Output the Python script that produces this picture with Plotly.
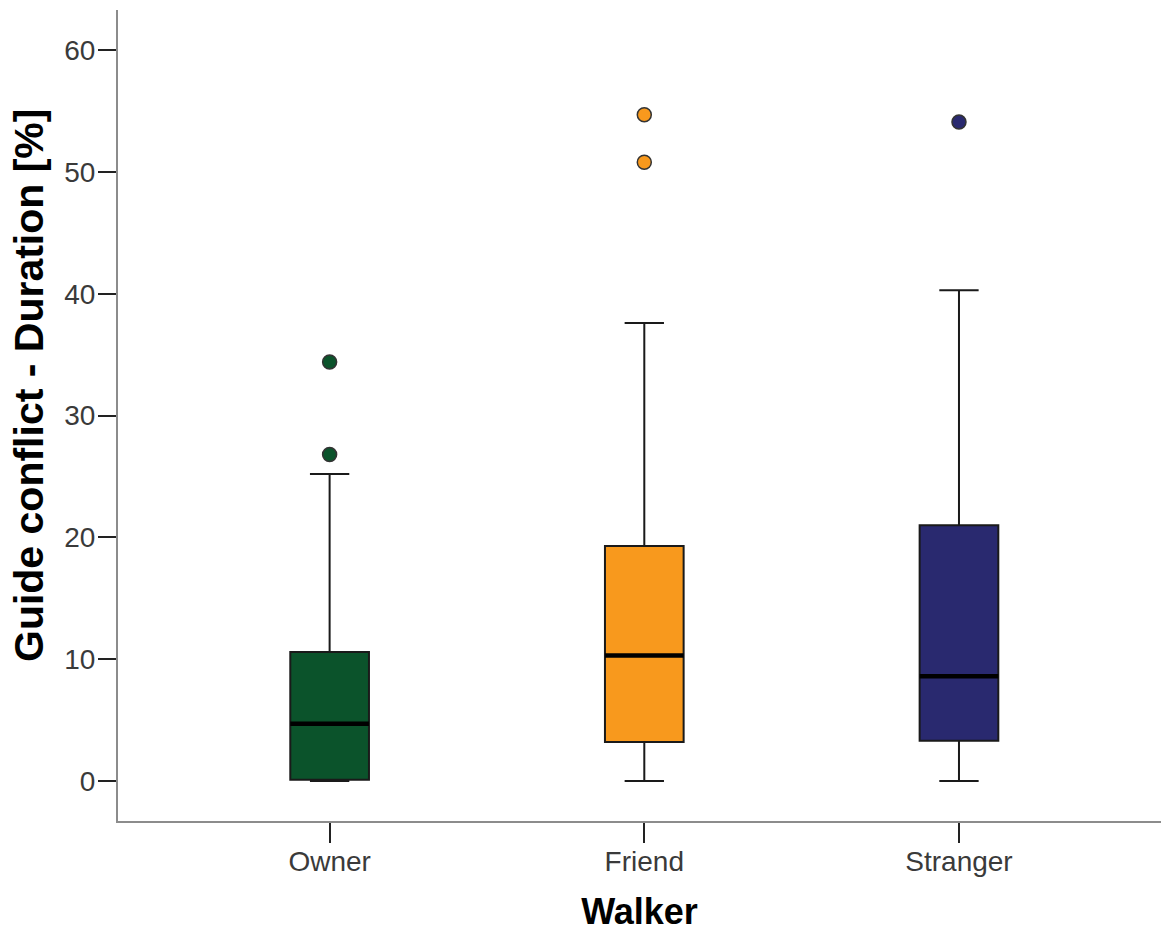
import plotly.graph_objects as go

# Walker groups and their summary statistics (duration, %)
walkers = ["Owner", "Friend", "Stranger"]
lower_whisker = [0.0, 0.0, 0.0]
q1 = [0.1, 3.2, 3.3]
median = [4.7, 10.3, 8.6]
q3 = [10.6, 19.3, 21.0]
upper_whisker = [25.2, 37.6, 40.3]
outliers = [[26.8, 34.4], [50.8, 54.7], [54.1]]
colors = ["#0b532b", "#f8991d", "#29296f"]

box_width = 0.25
positions = list(range(len(walkers)))

fig = go.Figure()

for i, name in enumerate(walkers):
    x = positions[i]
    fig.add_trace(go.Box(
        x=[x],
        q1=[q1[i]], median=[median[i]], q3=[q3[i]],
        lowerfence=[lower_whisker[i]], upperfence=[upper_whisker[i]],
        width=box_width, whiskerwidth=0.5,
        fillcolor=colors[i],
        line=dict(color="#1a1a1a", width=2),
        boxpoints=False, hoverinfo="skip", showlegend=False,
    ))
    # thick median bar
    fig.add_trace(go.Scatter(
        x=[x - box_width / 2, x + box_width / 2],
        y=[median[i], median[i]],
        mode="lines", line=dict(color="black", width=4.5),
        showlegend=False, hoverinfo="skip",
    ))
    # outlying values
    fig.add_trace(go.Scatter(
        x=[x] * len(outliers[i]), y=outliers[i],
        mode="markers",
        marker=dict(size=14, color=colors[i], line=dict(color="#333333", width=1.5)),
        showlegend=False, hoverinfo="skip",
    ))

font_family = "Liberation Sans, Arial, sans-serif"

fig.update_layout(
    width=1161, height=932,
    margin=dict(l=118, r=0, t=10, b=111),
    plot_bgcolor="white", paper_bgcolor="white",
    font=dict(family=font_family, color="#333333"),
    xaxis=dict(
        range=[-0.6725, 2.642],
        tickvals=positions, ticktext=walkers,
        ticks="outside", ticklen=20, tickwidth=2, tickcolor="#222222",
        tickfont=dict(size=28, color="#3a3a3a"),
        ticklabelstandoff=-6,
        showline=True, linecolor="#8c8c8c", linewidth=2,
        showgrid=False, zeroline=False, automargin=False,
        title=dict(text="<b>Walker</b>", font=dict(size=36, color="black"), standoff=34),
    ),
    yaxis=dict(
        range=[-3.28, 63.3],
        tickvals=[0, 10, 20, 30, 40, 50, 60],
        ticks="outside", ticklen=18, tickwidth=2, tickcolor="#222222",
        tickfont=dict(size=28, color="#3a3a3a"),
        ticklabelstandoff=-3,
        showline=True, linecolor="#8c8c8c", linewidth=2,
        showgrid=False, zeroline=False, automargin=False,
    ),
    annotations=[dict(
        text="<b>Guide conflict - Duration [%]</b>",
        textangle=-90,
        xref="paper", yref="paper",
        x=(29 - 118) / 1043, y=(821 - 386) / 811,
        xanchor="center", yanchor="middle",
        showarrow=False,
        font=dict(size=41, color="black"),
    )],
)

fig.write_html("out.html")
